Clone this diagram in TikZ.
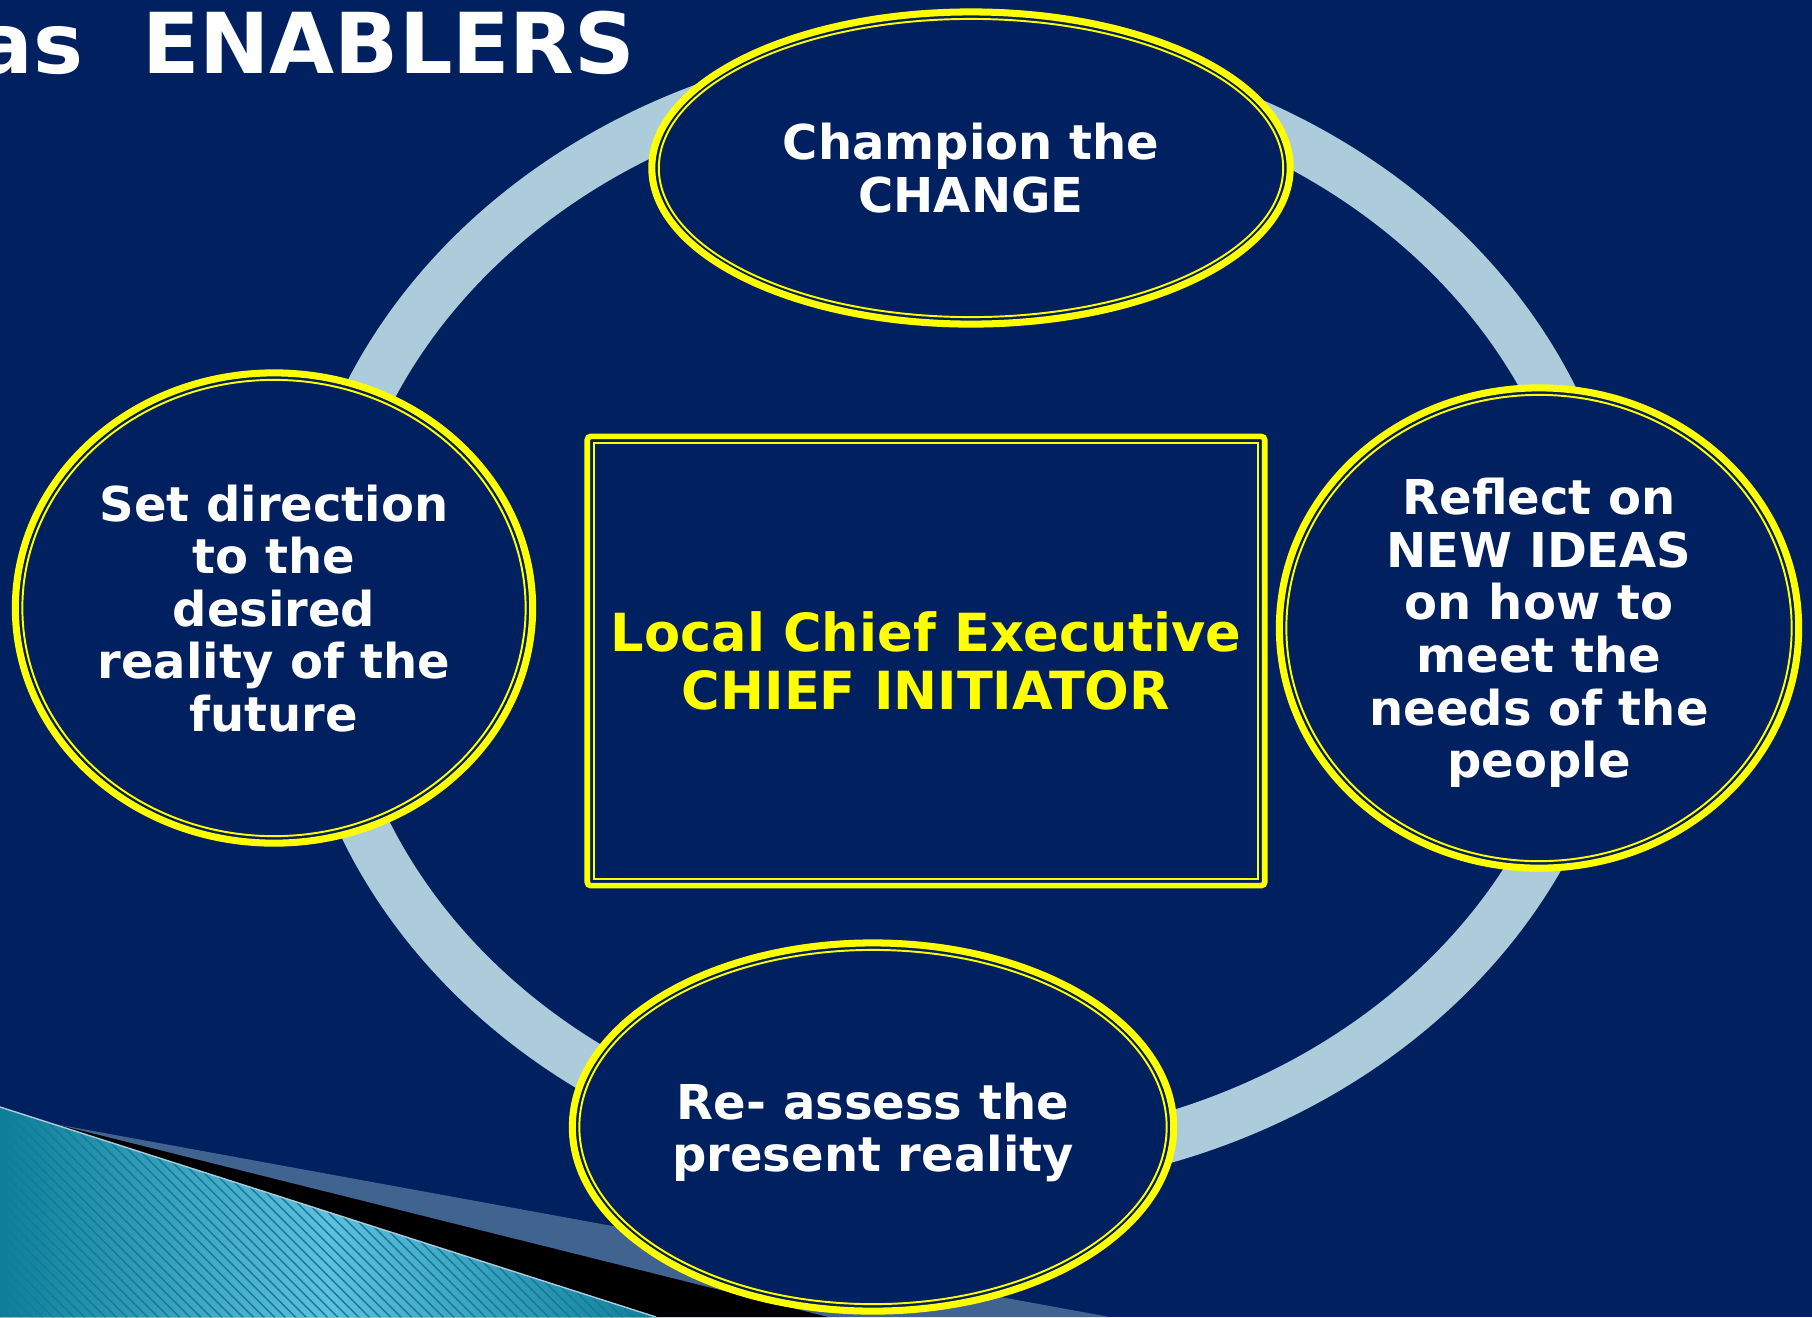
\documentclass[tikz,border=0pt]{standalone}
\usepackage{fontspec}
\setmainfont{DejaVu Sans}
\usetikzlibrary{shapes.geometric,patterns}

\definecolor{slidenavy}{RGB}{0,32,96}
\definecolor{ringblue}{RGB}{172,204,220}
\definecolor{chiefyellow}{RGB}{255,255,0}
\definecolor{wedgeslate}{RGB}{64,99,143}
\definecolor{tealdark}{RGB}{14,126,154}
\definecolor{teallight}{RGB}{96,192,222}

\tikzset{
  bubble/.style={ellipse, draw=chiefyellow, line width=2pt, fill=slidenavy, text=white, align=center, inner sep=0pt, text depth=0pt, font=\bfseries\fontsize{13.66}{14.94}\selectfont},
  rim/.style={ellipse, draw=chiefyellow, line width=0.55pt, inner sep=0pt},
  chiefbox/.style={rectangle, draw=chiefyellow, line width=1.6pt, rounded corners=1pt, fill=slidenavy, text=chiefyellow, align=center, inner sep=0pt, font=\bfseries\fontsize{14.94}{16.5}\selectfont},
  boxrim/.style={rectangle, draw=chiefyellow, line width=0.55pt, inner sep=0pt},
  headline/.style={text=white, inner sep=0pt, font=\bfseries\fontsize{23.9}{28}\selectfont}
}

\begin{document}
\begin{tikzpicture}[x=0.01cm, y=-0.01cm]
\pgfmathsetmacro{\ringrx}{645};
\pgfmathsetmacro{\ringry}{552};

\useasboundingbox (0,0) rectangle (1812,1317);
\clip (0,0) rectangle (1812,1317);
\fill[slidenavy] (0,0) rectangle (1812,1317);

% corner wedges
\coordinate (tip) at (55,1124);
\fill[wedgeslate] (tip) -- (1110,1317) -- (0,1317) -- cycle;
\fill[black] (tip) -- (828,1317) -- (0,1317) -- cycle;
\fill[left color=tealdark, right color=tealdark, middle color=teallight] (0,1107) -- (656,1317) -- (0,1317) -- cycle;
\fill[pattern=north west lines, pattern color=tealdark] (0,1107) -- (656,1317) -- (0,1317) -- cycle;
\draw[ringblue, line width=0.4pt] (0,1107) -- (656,1317);

% ring
\coordinate (o) at (960,615);
\draw[ringblue, line width=0.5cm] (o) ellipse [x radius={\ringrx}, y radius={\ringry}];

\node[headline, anchor=base east] (title) at (636,73) {as\ \ ENABLERS};

\node[bubble, minimum width=6.38cm, minimum height=3.12cm] (champion) at (971,168) {Champion the\\CHANGE};
\node[rim, minimum width=6.24cm, minimum height=2.98cm] (champion-rim) at (champion.center) {};

\node[bubble, minimum width=5.17cm, minimum height=4.70cm] (direction) at (274,608) {Set direction\\to the\\desired\\reality of the\\future};
\node[rim, minimum width=5.03cm, minimum height=4.56cm] (direction-rim) at (direction.center) {};

\node[bubble, minimum width=5.19cm, minimum height=4.80cm] (reflect) at (1539,628) {Reflect on\\NEW IDEAS\\on how to\\meet the\\needs of the\\people};
\node[rim, minimum width=5.05cm, minimum height=4.66cm] (reflect-rim) at (reflect.center) {};

\node[bubble, minimum width=6.01cm, minimum height=3.68cm] (reassess) at (873,1127) {Re- assess the\\present reality};
\node[rim, minimum width=5.87cm, minimum height=3.54cm] (reassess-rim) at (reassess.center) {};

\node[chiefbox, minimum width=6.77cm, minimum height=4.49cm] (chief) at (926,661) {Local Chief Executive\\CHIEF INITIATOR};
\node[boxrim, minimum width=6.63cm, minimum height=4.35cm] (chief-rim) at (chief.center) {};
\end{tikzpicture}
\end{document}
